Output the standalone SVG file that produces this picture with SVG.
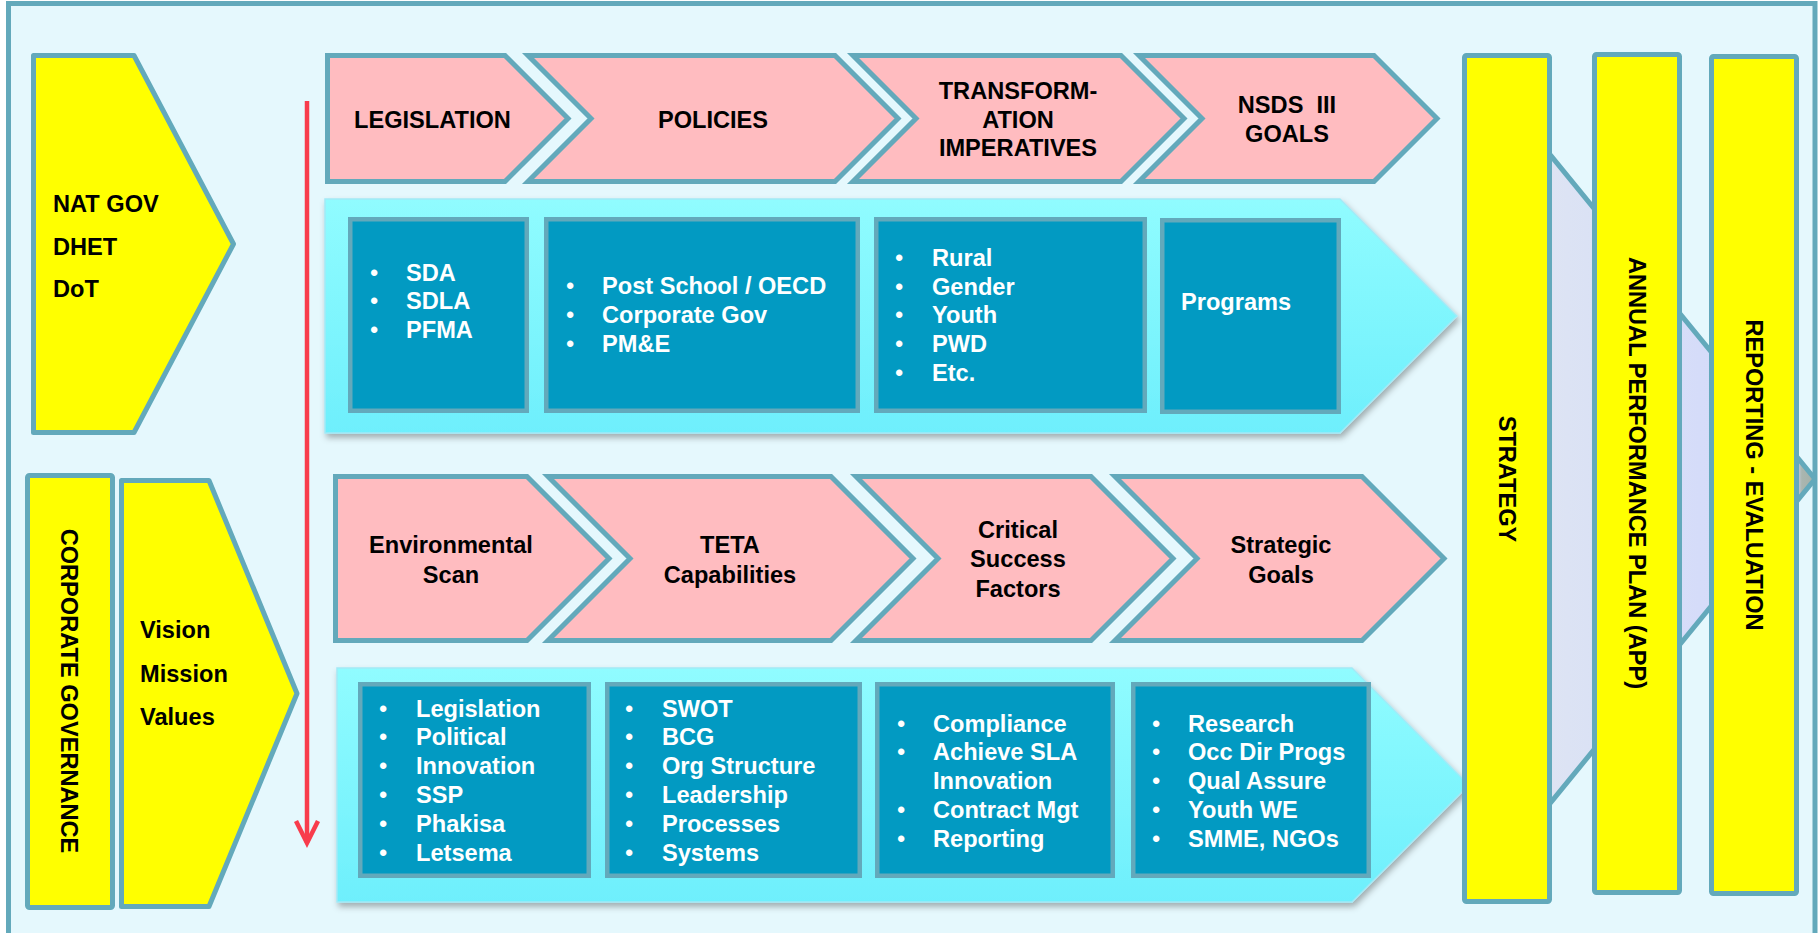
<svg xmlns="http://www.w3.org/2000/svg" width="1819" height="933" viewBox="0 0 1819 933">
  <defs>
    <style>
      .frame { fill: #e5f8fd; stroke: #63a9bb; stroke-width: 5; }
      .yel { fill: #ffff00; stroke: #63a9bb; stroke-width: 5; stroke-linejoin: round; }
      .pink { fill: #ffbcc0; stroke: #63a9bb; stroke-width: 5; stroke-linejoin: miter; stroke-miterlimit: 10; }
      .band { fill: url(#cyanGrad); stroke: #a3e9f6; stroke-width: 1.5; filter: url(#shadow); }
      .box { fill: #029ac2; stroke: #63a9bb; stroke-width: 4.5; }
      .flow { fill: url(#flowGrad); stroke: #63a9bb; stroke-width: 5; stroke-linejoin: bevel; }
      .t { font-family: "Liberation Sans", Arial, sans-serif; font-weight: bold; font-size: 23.6px; fill: #000; }
      .w { fill: #ffffff; }
      .c { text-anchor: middle; }
      .b { font-weight: normal; }
      .red { stroke: #f83c4c; stroke-width: 4.5; fill: none; }
    </style>
    <linearGradient id="cyanGrad" x1="0" y1="0" x2="0" y2="1">
      <stop offset="0" stop-color="#90fcff"/>
      <stop offset="1" stop-color="#6eeffc"/>
    </linearGradient>
    <linearGradient id="flowGrad" x1="0" y1="0" x2="1" y2="0">
      <stop offset="0" stop-color="#e2e7ee"/>
      <stop offset="0.25" stop-color="#dce3f4"/>
      <stop offset="0.65" stop-color="#d5dcf9"/>
      <stop offset="0.94" stop-color="#d3daf5"/>
      <stop offset="0.96" stop-color="#aab6b0"/>
      <stop offset="1" stop-color="#a3b0a8"/>
    </linearGradient>
    <filter id="shadow" x="-5%" y="-5%" width="110%" height="115%">
      <feDropShadow dx="2" dy="4" stdDeviation="3" flood-color="#000" flood-opacity="0.3"/>
    </filter>
    <filter id="lineShadow" x="-1%" y="-200%" width="102%" height="500%">
      <feDropShadow dx="1" dy="2" stdDeviation="1" flood-color="#000" flood-opacity="0.25"/>
    </filter>
    <marker id="openHead" markerUnits="userSpaceOnUse" orient="auto" refX="0" refY="0" markerWidth="30" markerHeight="30" viewBox="-26 -15 30 30" overflow="visible">
      <path d="M-22,-11 L0,0 L-22,11" fill="none" stroke="#f83c4c" stroke-width="4.5"/>
    </marker>
  </defs>

  <!-- outer panel -->
  <rect class="frame" x="8.5" y="3.5" width="1806.5" height="960"/>

  <!-- flow arrow running behind the three planning bars -->
  <polygon id="flow-arrow" class="flow" points="1485,75 1815,479 1485,883"/>

  <!-- left drivers -->
  <g id="nat-gov">
    <polygon class="yel" points="33.5,55.5 134,55.5 233.5,244 134,432.5 33.5,432.5"/>
    <text class="t" x="53" y="212">NAT GOV</text>
    <text class="t" x="53" y="255">DHET</text>
    <text class="t" x="53" y="297">DoT</text>
  </g>
  <g id="corporate-governance">
    <rect class="yel" x="27.5" y="475.5" width="85" height="432" rx="2"/>
    <text class="t c" transform="translate(61,691) rotate(90)">CORPORATE GOVERNANCE</text>
  </g>
  <g id="vision">
    <polygon class="yel" points="121.5,480.5 209,480.5 297,693.5 209,906.5 121.5,906.5"/>
    <text class="t" x="140" y="638">Vision</text>
    <text class="t" x="140" y="682">Mission</text>
    <text class="t" x="140" y="725">Values</text>
  </g>

  <!-- separator between national and corporate levels -->
  <line x1="33" y1="458" x2="1351" y2="458" stroke="#000" stroke-width="1.5" filter="url(#lineShadow)"/>

  <!-- national level: headings -->
  <g id="legislation">
    <polygon class="pink" points="327.5,55.5 505,55.5 568,118.5 505,181.5 327.5,181.5"/>
    <text class="t c" x="432.5" y="128">LEGISLATION</text>
  </g>
  <g id="policies">
    <polygon class="pink" points="528,55.5 835,55.5 898,118.5 835,181.5 528,181.5 591,118.5"/>
    <text class="t c" x="713" y="128">POLICIES</text>
  </g>
  <g id="transformation">
    <polygon class="pink" points="853,55.5 1121,55.5 1184,118.5 1121,181.5 853,181.5 916,118.5"/>
    <text class="t c" x="1018" y="99">TRANSFORM-</text>
    <text class="t c" x="1018" y="128">ATION</text>
    <text class="t c" x="1018" y="156">IMPERATIVES</text>
  </g>
  <g id="nsds">
    <polygon class="pink" points="1139,55.5 1374,55.5 1437,118.5 1374,181.5 1139,181.5 1202,118.5"/>
    <text class="t c" x="1287" y="113" xml:space="preserve">NSDS  III</text>
    <text class="t c" x="1287" y="142">GOALS</text>
  </g>

  <!-- national level: details -->
  <g id="national-band">
    <path class="band" d="M325,199 H1340 L1457,316 L1340,433 H325 Z"/>
  </g>
  <g id="acts">
    <rect class="box" x="350.25" y="219.25" width="176.5" height="191.5"/>
    <text class="t w" y="281"><tspan class="b" x="370">•</tspan><tspan x="406">SDA</tspan></text>
    <text class="t w" y="309"><tspan class="b" x="370">•</tspan><tspan x="406">SDLA</tspan></text>
    <text class="t w" y="338"><tspan class="b" x="370">•</tspan><tspan x="406">PFMA</tspan></text>
  </g>
  <g id="frameworks">
    <rect class="box" x="546.25" y="219.25" width="311.5" height="191.5"/>
    <text class="t w" y="294"><tspan class="b" x="566">•</tspan><tspan x="602">Post School / OECD</tspan></text>
    <text class="t w" y="323"><tspan class="b" x="566">•</tspan><tspan x="602">Corporate Gov</tspan></text>
    <text class="t w" y="352"><tspan class="b" x="566">•</tspan><tspan x="602">PM&amp;E</tspan></text>
  </g>
  <g id="imperatives">
    <rect class="box" x="876.25" y="219.25" width="268.5" height="191.5"/>
    <text class="t w" y="266"><tspan class="b" x="895">•</tspan><tspan x="932">Rural</tspan></text>
    <text class="t w" y="295"><tspan class="b" x="895">•</tspan><tspan x="932">Gender</tspan></text>
    <text class="t w" y="323"><tspan class="b" x="895">•</tspan><tspan x="932">Youth</tspan></text>
    <text class="t w" y="352"><tspan class="b" x="895">•</tspan><tspan x="932">PWD</tspan></text>
    <text class="t w" y="381"><tspan class="b" x="895">•</tspan><tspan x="932">Etc.</tspan></text>
  </g>
  <g id="programs">
    <rect class="box" x="1162.25" y="220.25" width="176.5" height="191.5"/>
    <text class="t w" x="1181" y="310">Programs</text>
  </g>

  <!-- corporate level: headings -->
  <g id="environmental-scan">
    <polygon class="pink" points="335.5,476.5 527,476.5 609,558.5 527,640.5 335.5,640.5"/>
    <text class="t c" x="451" y="553">Environmental</text>
    <text class="t c" x="451" y="583">Scan</text>
  </g>
  <g id="teta-capabilities">
    <polygon class="pink" points="548,476.5 831,476.5 913,558.5 831,640.5 548,640.5 630,558.5"/>
    <text class="t c" x="730" y="553">TETA</text>
    <text class="t c" x="730" y="583">Capabilities</text>
  </g>
  <g id="success-factors">
    <polygon class="pink" points="856,476.5 1091,476.5 1173,558.5 1091,640.5 856,640.5 938,558.5"/>
    <text class="t c" x="1018" y="538">Critical</text>
    <text class="t c" x="1018" y="567">Success</text>
    <text class="t c" x="1018" y="597">Factors</text>
  </g>
  <g id="strategic-goals">
    <polygon class="pink" points="1115,476.5 1362,476.5 1444,558.5 1362,640.5 1115,640.5 1197,558.5"/>
    <text class="t c" x="1281" y="553">Strategic</text>
    <text class="t c" x="1281" y="583">Goals</text>
  </g>

  <!-- corporate level: details -->
  <g id="corporate-band">
    <path class="band" d="M337,668 H1352 L1469,785 L1352,902 H337 Z"/>
  </g>
  <g id="scan-items">
    <rect class="box" x="360.25" y="684.25" width="228.5" height="191.5"/>
    <text class="t w" y="717"><tspan class="b" x="379">•</tspan><tspan x="416">Legislation</tspan></text>
    <text class="t w" y="745"><tspan class="b" x="379">•</tspan><tspan x="416">Political</tspan></text>
    <text class="t w" y="774"><tspan class="b" x="379">•</tspan><tspan x="416">Innovation</tspan></text>
    <text class="t w" y="803"><tspan class="b" x="379">•</tspan><tspan x="416">SSP</tspan></text>
    <text class="t w" y="832"><tspan class="b" x="379">•</tspan><tspan x="416">Phakisa</tspan></text>
    <text class="t w" y="861"><tspan class="b" x="379">•</tspan><tspan x="416">Letsema</tspan></text>
  </g>
  <g id="capability-items">
    <rect class="box" x="607.25" y="684.25" width="252.5" height="191.5"/>
    <text class="t w" y="717"><tspan class="b" x="625">•</tspan><tspan x="662">SWOT</tspan></text>
    <text class="t w" y="745"><tspan class="b" x="625">•</tspan><tspan x="662">BCG</tspan></text>
    <text class="t w" y="774"><tspan class="b" x="625">•</tspan><tspan x="662">Org Structure</tspan></text>
    <text class="t w" y="803"><tspan class="b" x="625">•</tspan><tspan x="662">Leadership</tspan></text>
    <text class="t w" y="832"><tspan class="b" x="625">•</tspan><tspan x="662">Processes</tspan></text>
    <text class="t w" y="861"><tspan class="b" x="625">•</tspan><tspan x="662">Systems</tspan></text>
  </g>
  <g id="factor-items">
    <rect class="box" x="877.25" y="684.25" width="235.5" height="191.5"/>
    <text class="t w" y="732"><tspan class="b" x="897">•</tspan><tspan x="933">Compliance</tspan></text>
    <text class="t w" y="760"><tspan class="b" x="897">•</tspan><tspan x="933">Achieve SLA</tspan></text>
    <text class="t w" x="933" y="789">Innovation</text>
    <text class="t w" y="818"><tspan class="b" x="897">•</tspan><tspan x="933">Contract Mgt</tspan></text>
    <text class="t w" y="847"><tspan class="b" x="897">•</tspan><tspan x="933">Reporting</tspan></text>
  </g>
  <g id="goal-items">
    <rect class="box" x="1133.25" y="684.25" width="235.5" height="191.5"/>
    <text class="t w" y="732"><tspan class="b" x="1152">•</tspan><tspan x="1188">Research</tspan></text>
    <text class="t w" y="760"><tspan class="b" x="1152">•</tspan><tspan x="1188">Occ Dir Progs</tspan></text>
    <text class="t w" y="789"><tspan class="b" x="1152">•</tspan><tspan x="1188">Qual Assure</tspan></text>
    <text class="t w" y="818"><tspan class="b" x="1152">•</tspan><tspan x="1188">Youth WE</tspan></text>
    <text class="t w" y="847"><tspan class="b" x="1152">•</tspan><tspan x="1188">SMME, NGOs</tspan></text>
  </g>

  <!-- planning cycle bars -->
  <g id="strategy">
    <rect class="yel" x="1464.5" y="55.5" width="85" height="846" rx="2"/>
    <text class="t c" transform="translate(1498.5,479) rotate(90)">STRATEGY</text>
  </g>
  <g id="app">
    <rect class="yel" x="1594.5" y="54.5" width="85" height="838" rx="2"/>
    <text class="t c" transform="translate(1628.5,473) rotate(90)">ANNUAL PERFORMANCE PLAN (APP)</text>
  </g>
  <g id="reporting">
    <rect class="yel" x="1711.5" y="56.5" width="85" height="837" rx="2"/>
    <text class="t c" transform="translate(1745.5,475) rotate(90)">REPORTING - EVALUATION</text>
  </g>

  <!-- connectors -->
  <g id="connectors">
    <line class="red" x1="307" y1="101" x2="307" y2="843" marker-end="url(#openHead)"/>
  </g>
</svg>
